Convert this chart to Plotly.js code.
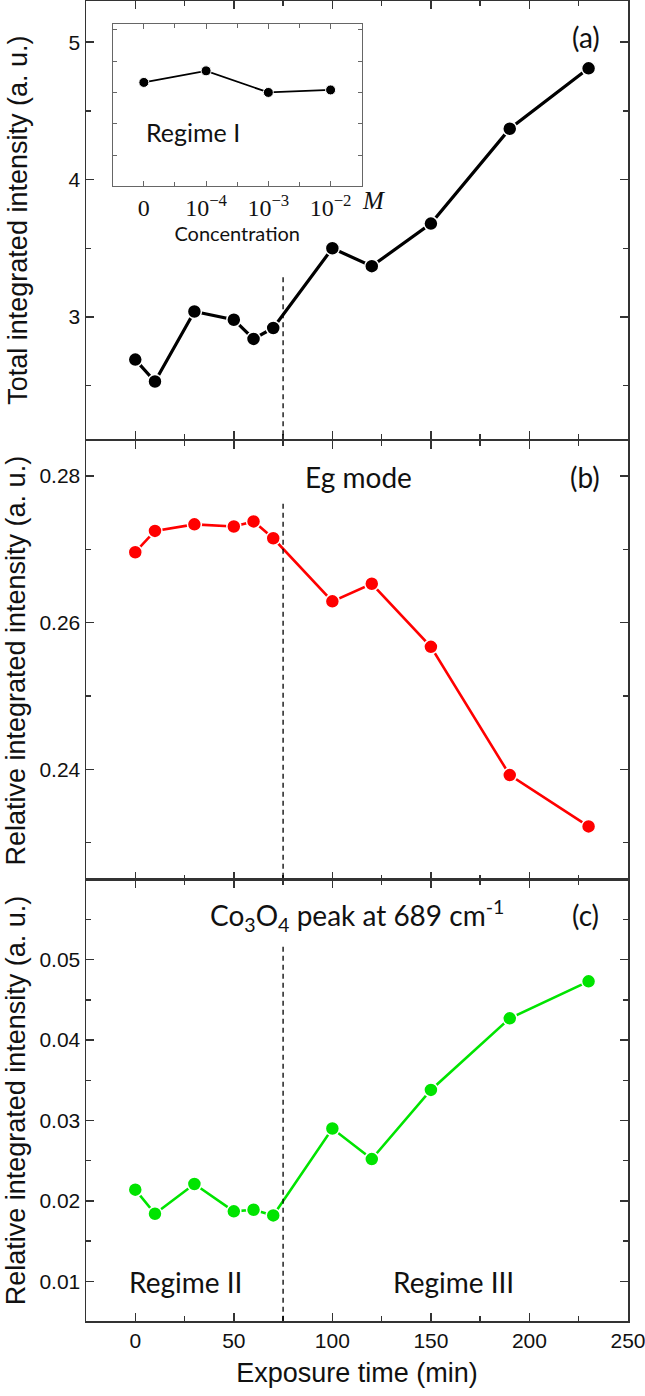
<!DOCTYPE html>
<html>
<head>
<meta charset="utf-8">
<script src="https://cdn.plot.ly/plotly-3.0.1.min.js"></script>
<style>html,body{margin:0;padding:0;background:#fff;}#chart{width:645px;height:1396px;}</style>
</head>
<body>
<div id="chart"></div>
<script>
// ---- data ----
const exposureTime = [0, 10, 30, 50, 60, 70, 100, 120, 150, 190, 230];
const totalIntensity = [2.69, 2.53, 3.04, 2.98, 2.84, 2.92, 3.50, 3.37, 3.68, 4.37, 4.81];
const egRelative = [0.2696, 0.2725, 0.2734, 0.2731, 0.2738, 0.2715, 0.2629, 0.2653, 0.2567, 0.2392, 0.2322];
const co3o4Relative = [0.0214, 0.0184, 0.0221, 0.0187, 0.0189, 0.0182, 0.0290, 0.0252, 0.0338, 0.0427, 0.0473];

const concLabels = ['0', '10<sup>−4</sup>', '10<sup>−3</sup>', '10<sup>−2</sup>'];
const concIndex = [0, 1, 2, 3];
const regimeIValues = [0.732, 0.769, 0.700, 0.708];

const regimeBoundary = 75;
const dashTopA = 3.29, dashTopB = 0.2762, dashTopC = 0.0516;

// ---- styling ----
const AX = {color: '#333', width: 1.5};
const tickFont = {family: 'Arial, "Liberation Sans", sans-serif', size: 21, color: '#111'};
const titleFont = {family: 'Arial, "Liberation Sans", sans-serif', size: 27, color: '#111'};
const annFont = {family: 'Lato, "Open Sans", sans-serif', size: 28, color: '#111'};

const rangeA = [2.11, 5.30], rangeB = [0.2249, 0.2847], rangeC = [0.00507, 0.0599];
const xRange = [-25, 250];

function xAxis(extra) {
  return Object.assign({
    range: xRange, dtick: 50, tick0: 0, ticks: 'inside', ticklen: 8, tickwidth: 1.5, tickcolor: AX.color,
    minor: {dtick: 25, ticks: 'inside', ticklen: 5, tickwidth: 1.5, tickcolor: AX.color},
    showline: true, linecolor: AX.color, linewidth: AX.width, mirror: 'allticks',
    showgrid: false, zeroline: false, tickfont: tickFont, ticklabeloverflow: 'allow'
  }, extra);
}
function yAxis(extra) {
  return Object.assign({
    ticks: 'inside', ticklen: 8, tickwidth: 1.5, tickcolor: AX.color,
    showline: true, linecolor: AX.color, linewidth: AX.width, mirror: 'allticks',
    showgrid: false, zeroline: false, tickfont: tickFont
  }, extra);
}

function series(y, color, xa, ya, lw) {
  return {
    x: exposureTime, y: y, xaxis: xa, yaxis: ya, type: 'scatter', mode: 'lines+markers',
    line: {color: color, width: lw},
    marker: {color: color, size: 14, line: {color: '#fff', width: 1.5}},
    showlegend: false, cliponaxis: false
  };
}

const traces = [
  series(totalIntensity, '#000000', 'x', 'y', 3.2),
  series(egRelative, '#ff0000', 'x2', 'y2', 2.6),
  series(co3o4Relative, '#00e400', 'x3', 'y3', 2.6),
  {
    x: concIndex, y: regimeIValues, xaxis: 'x4', yaxis: 'y4', type: 'scatter', mode: 'lines+markers',
    line: {color: '#000', width: 1.8},
    marker: {color: '#000', size: 10, line: {color: '#fff', width: 1}},
    showlegend: false
  }
];

function vline(xa, ya, top, bottom) {
  return {type: 'line', xref: xa, yref: ya, x0: regimeBoundary, x1: regimeBoundary, y0: top, y1: bottom,
          line: {color: '#000', width: 1.3, dash: '5px,4px'}};
}

function ann(text, xpx, ypx, font) {
  return {text: text, xref: 'paper', yref: 'paper', x: (xpx - 86) / 542, y: (1321 - ypx) / 1320,
          xanchor: 'center', yanchor: 'middle', showarrow: false, font: font};
}

const layout = {
  width: 645, height: 1396,
  margin: {l: 86, r: 17, t: 1, b: 75},
  paper_bgcolor: '#fff', plot_bgcolor: '#fff',
  font: {family: 'Arial, "Liberation Sans", sans-serif', color: '#111'},
  xaxis: xAxis({domain: [0, 1], anchor: 'y', showticklabels: false}),
  xaxis2: xAxis({domain: [0, 1], anchor: 'y2', showticklabels: false, matches: 'x'}),
  xaxis3: xAxis({domain: [0, 1], anchor: 'y3', matches: 'x',
                 title: {text: 'Exposure time (min)', font: {family: titleFont.family, size: 27, color: '#111'}, standoff: 12}}),
  yaxis: yAxis({domain: [0.668, 1], anchor: 'x', range: rangeA, dtick: 1, tick0: 0,
                minor: {dtick: 0.5, ticks: 'inside', ticklen: 5, tickwidth: 1.5, tickcolor: AX.color},
                title: {text: 'Total integrated intensity (a. u.)', font: titleFont, standoff: 33}}),
  yaxis2: yAxis({domain: [0.3341, 0.6663], anchor: 'x2', range: rangeB, dtick: 0.02, tick0: 0, tickformat: '.2f',
                 minor: {dtick: 0.01, ticks: 'inside', ticklen: 5, tickwidth: 1.5, tickcolor: AX.color},
                 title: {text: 'Relative integrated intensity (a. u.)', font: titleFont, standoff: 6}}),
  yaxis3: yAxis({domain: [0, 0.3341], anchor: 'x3', range: rangeC, dtick: 0.01, tick0: 0, tickformat: '.2f',
                 minor: {dtick: 0.005, ticks: 'inside', ticklen: 5, tickwidth: 1.5, tickcolor: AX.color},
                 title: {text: 'Relative integrated intensity (a. u.)', font: titleFont, standoff: 6}}),
  xaxis4: {domain: [0.0493, 0.5087], anchor: 'y4', range: [-0.5, 3.5],
           tickmode: 'array', tickvals: concIndex, ticktext: concLabels,
           ticks: 'inside', ticklen: 5, tickwidth: 1, tickcolor: '#666',
           minor: {tickvals: [0.5, 1.5, 2.5], ticks: 'inside', ticklen: 4, tickwidth: 1, tickcolor: '#666'},
           showline: true, linecolor: '#666', linewidth: 1.2, mirror: 'allticks',
           showgrid: false, zeroline: false,
           tickfont: {family: '"Liberation Serif", "DejaVu Serif", serif', size: 24, color: '#111'},
           title: {text: 'Concentration', font: {family: annFont.family, size: 20, color: '#111'}, standoff: 2}},
  yaxis4: {domain: [0.8601, 0.9824], anchor: 'x4', range: [0.402, 0.918], dtick: 0.1, tick0: 0,
           ticks: 'inside', ticklen: 4, tickwidth: 1, tickcolor: '#666', showticklabels: false,
           showline: true, linecolor: '#666', linewidth: 1.2, mirror: 'allticks',
           showgrid: false, zeroline: false},
  shapes: [
    vline('x', 'y', dashTopA, rangeA[0]),
    vline('x2', 'y2', dashTopB, rangeB[0]),
    vline('x3', 'y3', dashTopC, rangeC[0])
  ],
  annotations: [
    ann('(a)', 586, 37, annFont),
    ann('Regime I', 193, 132, {family: annFont.family, size: 25, color: '#111'}),
    ann('<i>M</i>', 373, 201, {family: '"Liberation Serif", "DejaVu Serif", serif', size: 25, color: '#111'}),
    ann('Eg mode', 358, 477, annFont),
    ann('(b)', 585, 477, annFont),
    ann('Co<sub>3</sub>O<sub>4</sub> peak at 689 cm<sup>-1</sup>', 357, 916, annFont),
    ann('(c)', 585, 915, annFont),
    ann('Regime II', 185, 1282, annFont),
    ann('Regime III', 453, 1282, annFont)
  ]
};

Plotly.newPlot('chart', traces, layout, {displayModeBar: false, staticPlot: true});
</script>
</body>
</html>
